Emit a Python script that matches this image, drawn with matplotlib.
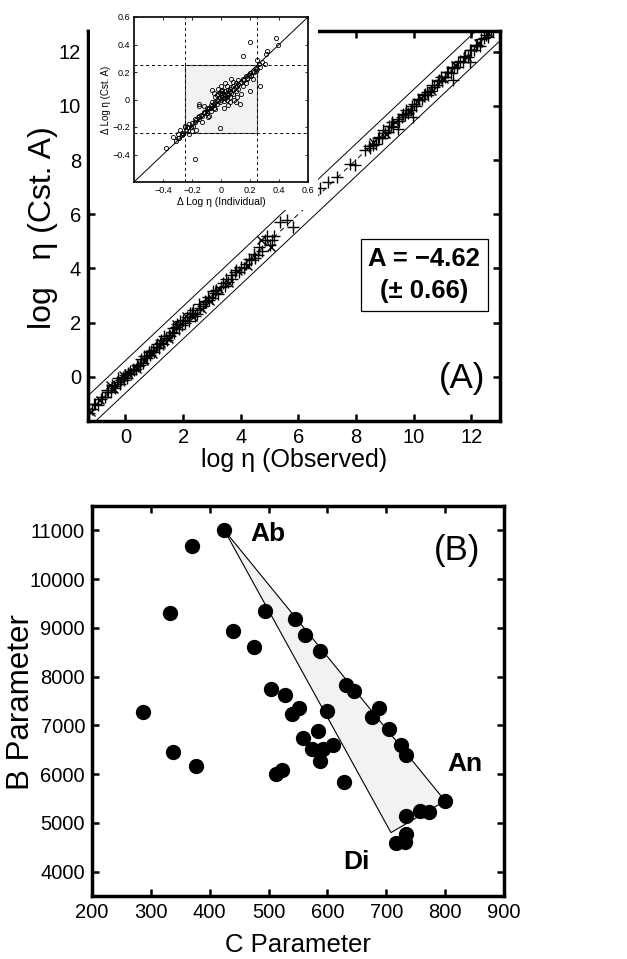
import matplotlib
matplotlib.use("Agg")
import matplotlib.pyplot as plt
from matplotlib.patches import Rectangle, Polygon

plt.rcParams['font.family'] = ['Liberation Sans', 'DejaVu Sans']

# ---------------- Panel A data ----------------
obs_plus = [-1.25, -1.15, -1.05, -0.95, -0.85, -0.7, -0.6, -0.5, -0.45, -0.35, -0.3, -0.2, -0.15,
            -0.05, 0.0, 0.05, 0.15, 0.2, 0.3, 0.35, 0.45, 0.5, 0.6, 0.7, 0.75, 0.85, 0.9, 1.0, 1.05,
            1.15, 1.2, 1.3, 1.4, 1.45, 1.55, 1.6, 1.7, 1.8, 1.85, 1.95, 2.05, 2.15, 2.2, 2.3, 2.4,
            2.5, 2.6, 2.7, 2.8, 2.9, 3.0, 3.1, 3.2, 3.3, 3.45, 3.55, 3.7, 3.8, 3.95, 4.1, 4.2, 4.35,
            4.5, 4.6, 4.75, 4.85, 5.0, 5.15, 5.35, 5.6, 5.82, 6.75, 7.04, 7.33, 7.8, 7.96, 8.3, 8.45,
            8.6, 8.7, 8.8, 8.9, 9.0, 9.1, 9.2, 9.3, 9.47, 9.5, 9.6, 9.7, 9.8, 9.9, 9.99, 10.0, 10.1,
            10.2, 10.3, 10.4, 10.5, 10.6, 10.7, 10.8, 10.9, 11.0, 11.1, 11.2, 11.3, 11.38, 11.4, 11.5,
            11.6, 11.7, 11.8, 11.9, 11.96, 12.0, 12.1, 12.2, 12.3, 12.45, 12.6, 12.75]
cst_plus = [-1.35, -1.2, -1.0, -1.05, -0.8, -0.75, -0.55, -0.55, -0.3, -0.4, -0.2, -0.25, -0.1,
            -0.1, 0.05, -0.05, 0.2, 0.1, 0.25, 0.3, 0.4, 0.45, 0.5, 0.75, 0.7, 0.8, 0.95, 0.9, 1.1,
            1.05, 1.25, 1.2, 1.45, 1.35, 1.5, 1.65, 1.6, 1.95, 1.75, 1.9, 2.0, 2.2, 2.05, 2.35, 2.25,
            2.3, 2.55, 2.6, 2.75, 2.85, 2.9, 3.1, 3.05, 3.3, 3.35, 3.5, 3.6, 3.85, 3.85, 4.0, 4.15, 4.3,
            4.4, 4.5, 4.65, 5.05, 4.85, 5.2, 5.7, 5.78, 5.53, 6.95, 7.2, 7.38, 7.87, 7.8, 8.36, 8.5,
            8.55, 8.6, 8.85, 8.8, 9.0, 9.05, 9.25, 9.2, 9.16, 9.45, 9.6, 9.65, 9.75, 9.85, 9.6, 10.05, 10.0,
            10.2, 10.25, 10.45, 10.4, 10.55, 10.7, 10.75, 10.95, 10.9, 11.05, 11.25, 11.2, 10.96, 11.4, 11.45,
            11.65, 11.6, 11.85, 11.8, 11.6, 12.05, 12.05, 12.25, 12.2, 12.5, 12.55, 12.75]

obs_plus2 = [-1.1, -0.8, -0.65, -0.4, -0.25, -0.1, 0.08, 0.25, 0.4, 0.55, 0.65, 0.8, 0.95, 1.1,
             1.25, 1.35, 1.5, 1.65, 1.75, 1.9, 2.0, 2.25, 2.35, 2.55, 2.75, 2.85, 3.05, 3.15, 3.4,
             3.5, 3.65, 3.85, 4.0, 4.3, 4.45, 4.65, 4.9, 5.1, 8.5, 8.75, 8.95, 9.15, 9.25, 9.45,
             9.65, 9.75, 9.95, 10.15, 10.35, 10.45, 10.65, 10.85, 10.95, 11.15, 11.35, 11.55,
             11.75, 11.95, 12.15, 12.35, 12.5, 12.7]
cst_plus2 = [-1.0, -0.75, -0.5, -0.35, -0.05, -0.0, 0.15, 0.3, 0.45, 0.65, 0.75, 0.9, 1.0, 1.2,
             1.35, 1.5, 1.55, 1.8, 1.85, 2.05, 2.1, 2.35, 2.45, 2.7, 2.8, 2.95, 3.15, 3.2, 3.45,
             3.6, 3.75, 3.95, 4.05, 4.35, 4.55, 4.8, 5.2, 5.05, 8.45, 8.8, 9.1, 9.25, 9.4, 9.5,
             9.7, 9.85, 10.0, 10.25, 10.4, 10.5, 10.75, 10.9, 11.05, 11.25, 11.45, 11.6,
             11.8, 12.05, 12.2, 12.45, 12.6, 12.8]

obs_x = [-1.2, -0.9, -0.55, -0.4, -0.1, 0.1, 0.4, 0.65, 0.95, 1.25, 1.5, 1.75, 2.1, 2.35, 2.65,
         2.95, 3.25, 3.6, 3.9, 4.25, 4.7, 5.05, 8.6, 9.05, 9.35, 9.85, 10.25, 10.65, 11.05, 11.45,
         11.85, 12.25, 12.6]
cst_x = [-1.3, -0.85, -0.3, -0.45, 0.05, 0.15, 0.3, 0.6, 0.85, 1.25, 1.4, 1.95, 2.25, 2.2, 2.5,
         2.8, 3.25, 3.45, 3.9, 4.1, 5.05, 4.8, 8.65, 8.95, 9.4, 9.8, 10.3, 10.55, 11.0, 11.5,
         11.8, 12.3, 12.7]

band = 0.6
line_range = [-2.0, 14.0]

# ---------------- Inset data ----------------
d_ind = [-0.38, -0.33, -0.31, -0.3, -0.29, -0.28, -0.27, -0.26, -0.25, -0.24, -0.22, -0.21, -0.2,
         -0.19, -0.18, -0.18, -0.17, -0.16, -0.15, -0.15, -0.14, -0.13, -0.12, -0.11, -0.1, -0.1,
         -0.09, -0.08, -0.07, -0.07, -0.06, -0.05, -0.05, -0.04, -0.03, -0.03, -0.02, -0.01, -0.01,
         0.0, 0.0, 0.01, 0.01, 0.02, 0.02, 0.03, 0.03, 0.04, 0.04, 0.05, 0.05, 0.06, 0.06, 0.07,
         0.07, 0.08, 0.08, 0.09, 0.1, 0.1, 0.11, 0.12, 0.12, 0.13, 0.14, 0.15, 0.16, 0.17, 0.18,
         0.19, 0.2, 0.21, 0.22, 0.23, 0.24, 0.25, 0.26, 0.27, 0.28, 0.3, 0.31, 0.32, 0.38, 0.39,
         -0.18, -0.01, 0.2, 0.15, 0.27, 0.2, -0.15, -0.15, 0.13, 0.1, 0.05, 0.08, -0.05, -0.02, 0.0,
         0.03, -0.08, -0.12, 0.06, 0.11, -0.2, -0.25, -0.3, -0.22, -0.17, -0.13, 0.04, 0.01, -0.04,
         0.14, 0.17, 0.22, 0.25, -0.06, 0.09, 0.02, -0.09, 0.07,
         -0.02, 0.0, 0.02, 0.04, -0.04, -0.06, 0.01, 0.03, 0.05, -0.03, -0.01, 0.06, 0.08, -0.07,
         0.1, 0.12, -0.1, 0.15, 0.18, -0.12, 0.21, 0.24, -0.23, -0.27]
d_cst = [-0.35, -0.27, -0.3, -0.25, -0.28, -0.22, -0.26, -0.25, -0.2, -0.22, -0.18, -0.2, -0.17,
         -0.19, -0.16, -0.14, -0.15, -0.13, -0.12, -0.14, -0.11, -0.12, -0.1, -0.09, -0.08, -0.1,
         -0.07, -0.06, -0.06, -0.04, -0.05, -0.03, -0.06, -0.02, -0.03, 0.0, -0.01, 0.01, -0.02,
         0.0, 0.03, 0.02, 0.05, 0.01, 0.04, 0.03, 0.06, 0.02, 0.05, 0.04, 0.07, 0.06, 0.08, 0.05,
         0.09, 0.07, 0.1, 0.08, 0.09, 0.12, 0.1, 0.11, 0.14, 0.12, 0.13, 0.15, 0.14, 0.17, 0.16,
         0.18, 0.19, 0.18, 0.21, 0.2, 0.23, 0.22, 0.26, 0.24, 0.27, 0.26, 0.33, 0.35, 0.45, 0.4,
         -0.43, -0.21, 0.42, 0.32, 0.1, 0.06, -0.05, -0.03, -0.03, -0.02, -0.04, 0.13, 0.05, 0.08,
         0.1, 0.12, -0.12, -0.05, -0.02, 0.02, -0.23, -0.19, -0.28, -0.25, -0.22, -0.16, 0.1, 0.06,
         -0.07, 0.04, 0.12, 0.15, 0.29, 0.07, 0.0, -0.06, -0.13, 0.15,
         0.04, 0.06, -0.01, 0.0, 0.02, -0.02, 0.07, 0.01, 0.03, 0.03, 0.05, 0.02, 0.04, -0.08,
         0.06, 0.08, -0.06, 0.1, 0.15, -0.09, 0.17, 0.21, -0.2, -0.24]

box_lo, box_hi = -0.245, 0.25

# ---------------- Panel B data ----------------
c_param = [425, 370, 332, 287, 338, 376, 494, 440, 475, 545, 562, 587, 504, 528, 552, 540, 600,
           584, 558, 573, 593, 609, 588, 512, 522, 628, 631, 645, 676, 687, 704, 725, 733, 800,
           733, 757, 773, 717, 733, 732]
b_param = [11000, 10670, 9310, 7280, 6450, 6170, 9340, 8930, 8600, 9190, 8860, 8530, 7740, 7620,
           7350, 7240, 7300, 6880, 6740, 6510, 6510, 6600, 6260, 6000, 6080, 5840, 7820, 7710,
           7170, 7350, 6930, 6590, 6400, 5450, 5150, 5250, 5230, 4580, 4770, 4600]
triangle_c = [425, 708, 800]
triangle_b = [11000, 4800, 5450]

# ---------------- Figure ----------------
fig = plt.figure(figsize=(6.27, 9.59), dpi=100)
W, H = 627.0, 959.0

def rect(l, t, r, b):
    return [l / W, 1 - b / H, (r - l) / W, (b - t) / H]

TICK = 14.5

# Panel A
axA = fig.add_axes(rect(88, 31, 500, 421))
axA.plot(line_range, [v + band for v in line_range], color='black', lw=0.7)
axA.plot(line_range, [v - band for v in line_range], color='black', lw=0.7)
axA.plot(line_range, line_range, color='black', lw=0.7, ls=(0, (5, 5)))
axA.plot(obs_plus, cst_plus, ls='none', marker='+', ms=8, mew=1.0, color='black')
axA.plot(obs_plus2, cst_plus2, ls='none', marker='+', ms=8, mew=1.0, color='black')
axA.plot(obs_x, cst_x, ls='none', marker='x', ms=6, mew=1.0, color='black')
axA.set_xlim(-1.3, 13.0)
axA.set_ylim(-1.63, 12.76)
axA.set_xticks([0, 2, 4, 6, 8, 10, 12])
axA.set_yticks([0, 2, 4, 6, 8, 10, 12])
axA.tick_params(direction='in', top=True, right=True, length=5, width=1.8, labelsize=TICK, pad=5)
for s in axA.spines.values():
    s.set_linewidth(2.5)
axA.set_xlabel('log η (Observed)', fontsize=18)
axA.xaxis.set_label_coords(0.5, -0.068)
axA.set_ylabel('log   η (Cst. A)', fontsize=23)
axA.yaxis.set_label_coords(-0.072, 0.495)
axA.text(0.816, 0.374, 'A = \u22124.62\n(\u00b1 0.66)', transform=axA.transAxes, ha='center', va='center',
         fontsize=18.5, fontweight='bold', linespacing=1.45,
         bbox=dict(boxstyle='square,pad=0.3', facecolor='white', edgecolor='black', linewidth=0.9))
axA.text(0.908, 0.11, '(A)', transform=axA.transAxes, ha='center', va='center', fontsize=25)

# white patch behind inset
fig.patches.append(Rectangle((90 / W, 1 - 210 / H), (318 - 90) / W, 210 / H, transform=fig.transFigure,
                             facecolor='white', edgecolor='none', zorder=1))

# Inset
axI = fig.add_axes(rect(134, 17, 308, 182))
axI.set_zorder(2)
axI.add_patch(Rectangle((box_lo, box_lo), box_hi - box_lo, box_hi - box_lo, facecolor='#f2f2f2',
                        edgecolor='#555555', lw=0.8, zorder=0))
axI.plot([-0.6, 0.6], [-0.6, 0.6], color='black', lw=0.7)
for v in (box_lo, box_hi):
    axI.axvline(v, color='black', lw=0.7, ls=(0, (3, 3)))
    axI.axhline(v, color='black', lw=0.7, ls=(0, (3, 3)))
axI.plot(d_ind, d_cst, ls='none', marker='o', ms=3, mew=0.6, mfc='none', mec='black')
axI.set_xlim(-0.6, 0.6)
axI.set_ylim(-0.6, 0.6)
axI.set_xticks([-0.4, -0.2, 0, 0.2, 0.4, 0.6])
axI.set_yticks([-0.4, -0.2, 0, 0.2, 0.4, 0.6])
axI.set_xticklabels(['\u22120.4', '\u22120.2', '0', '0.2', '0.4', '0.6'])
axI.set_yticklabels(['\u22120.4', '\u22120.2', '0', '0.2', '0.4', '0.6'])
axI.tick_params(direction='in', top=True, right=True, length=2.5, width=0.6, labelsize=6.5, pad=3)
for s in axI.spines.values():
    s.set_linewidth(1.2)
axI.set_xlabel('\u0394 Log η (Individual)', fontsize=7.5, labelpad=1)
axI.set_ylabel('\u0394 Log η (Cst. A)', fontsize=7, labelpad=1)

# Panel B
axB = fig.add_axes(rect(92, 506, 504, 896))
axB.add_patch(Polygon(list(zip(triangle_c, triangle_b)), closed=True, facecolor='#f2f2f2',
                      edgecolor='black', lw=0.8, zorder=1))
axB.plot(c_param, b_param, ls='none', marker='o', ms=10, color='black', zorder=3)
axB.set_xlim(200, 900)
axB.set_ylim(3500, 11500)
axB.set_xticks(range(200, 901, 100))
axB.set_yticks(range(4000, 11001, 1000))
axB.tick_params(direction='in', top=True, right=True, length=5, width=1.8, labelsize=TICK, pad=5)
for s in axB.spines.values():
    s.set_linewidth(2.5)
axB.set_xlabel('C Parameter', fontsize=18.5)
axB.xaxis.set_label_coords(0.5, -0.095)
axB.set_ylabel('B Parameter', fontsize=22.5)
axB.yaxis.set_label_coords(-0.135, 0.497)
axB.text(499, 10930, 'Ab', fontsize=19, fontweight='bold', ha='center', va='center')
axB.text(834, 6205, 'An', fontsize=19, fontweight='bold', ha='center', va='center')
axB.text(650, 4190, 'Di', fontsize=19, fontweight='bold', ha='center', va='center')
axB.text(820, 10580, '(B)', fontsize=25, ha='center', va='center')

fig.savefig('out.png', dpi=100)
